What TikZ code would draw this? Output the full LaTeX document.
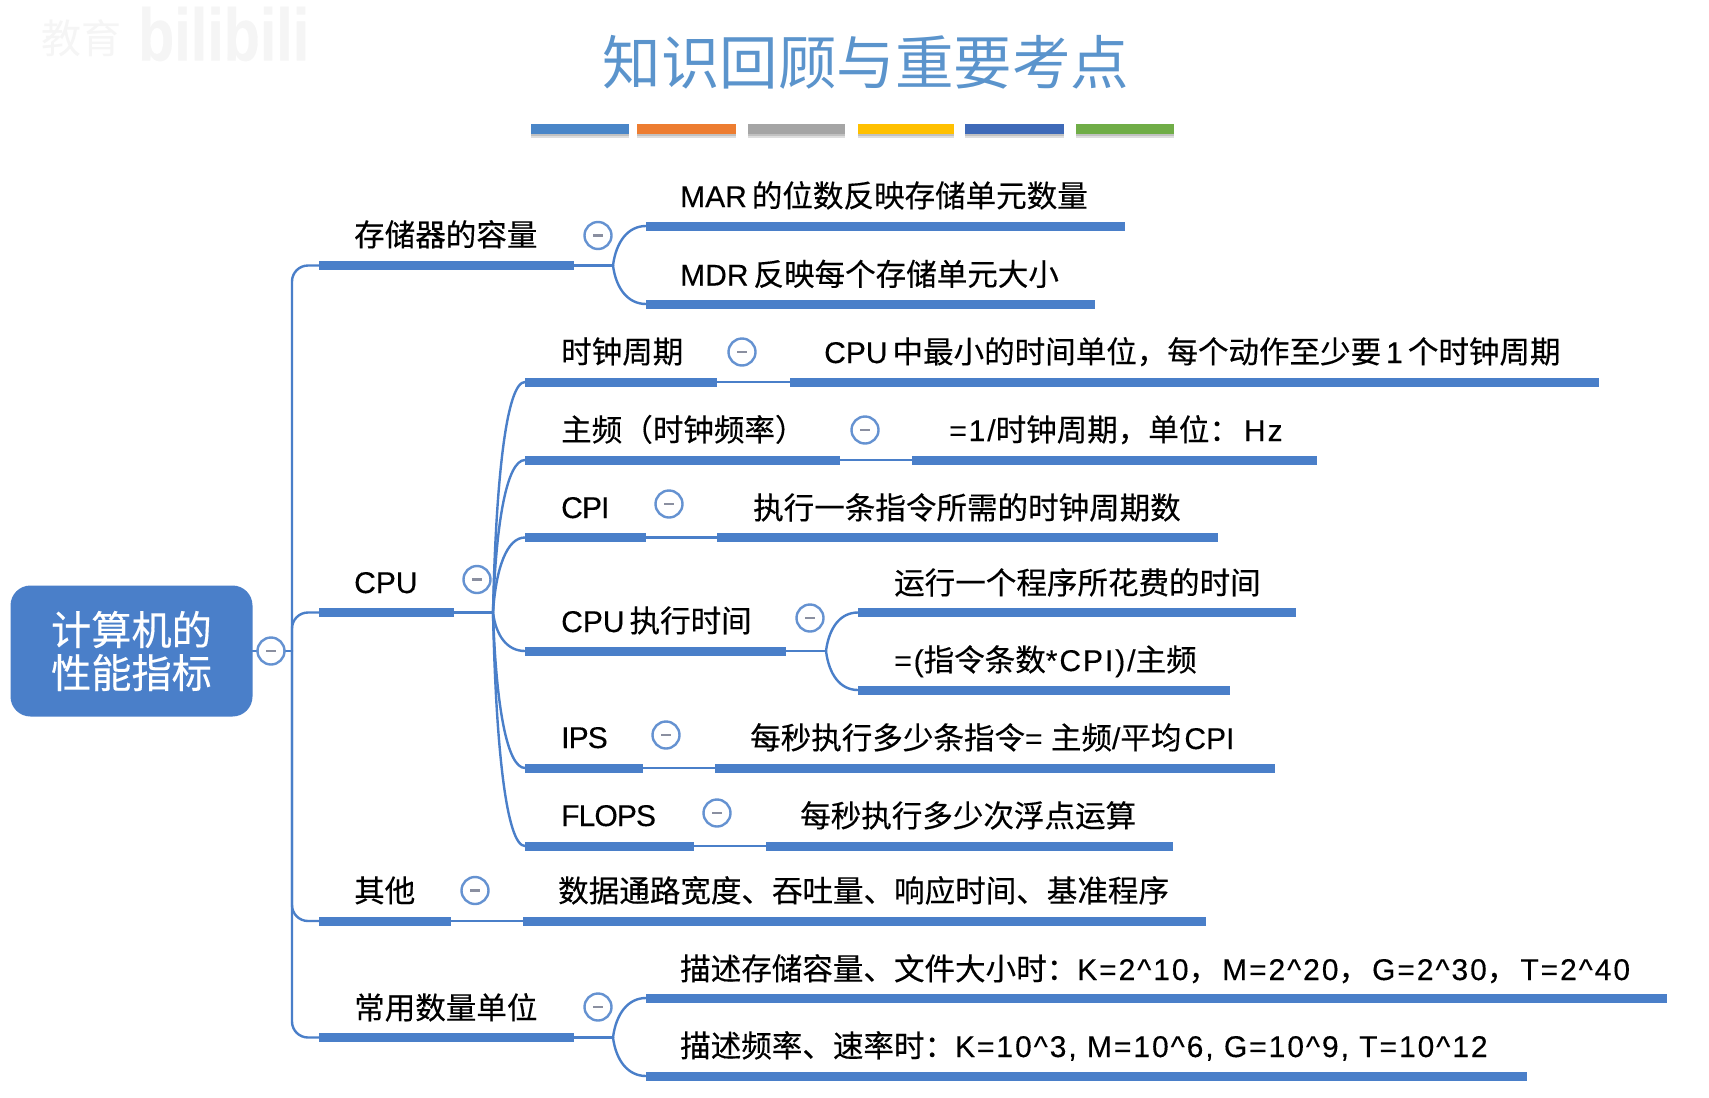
\documentclass[tikz,border=0pt]{standalone}
\usepackage{fontspec}
\usetikzlibrary{calc}
\setmainfont[FakeBold=0.25]{Liberation Sans}
\newfontfamily\cjk[Scale=1.018,FakeBold=0.35]{Noto Sans CJK SC}
\newfontfamily\cjkplain{Noto Sans CJK SC}
\newfontfamily\wide[LetterSpace=6.5,FakeBold=0.25]{Liberation Sans}
\newfontfamily\tight[LetterSpace=-3,FakeBold=0.25]{Liberation Sans}
\newcommand{\Zh}[1]{{\cjk #1}}
\definecolor{mapblue}{HTML}{4A7FC9}
\definecolor{titleblue}{HTML}{5B94CC}
\definecolor{dashgray}{HTML}{8A8FA0}
\definecolor{ribA}{HTML}{4A86C8}
\definecolor{ribB}{HTML}{ED7D31}
\definecolor{ribC}{HTML}{A5A5A5}
\definecolor{ribD}{HTML}{FFC000}
\definecolor{ribE}{HTML}{3F6AB8}
\definecolor{ribF}{HTML}{70AD47}
\tikzset{
  x=1pt,y=-1pt,
  barline/.style={rectangle,fill=mapblue,draw=none,inner sep=0pt,minimum height=9pt,anchor=west},
  conn/.style={draw=mapblue,line width=2.4pt,line cap=round},
  tree/.style={font=\fontsize{30}{32}\selectfont,text=black,inner sep=0pt,anchor=west,text height=26pt,text depth=4pt},
  toggle/.style={circle,draw=mapblue!85!white,fill=white,line width=2.4pt,minimum size=27pt,inner sep=0pt,
    path picture={\draw[dashgray,line width=2.6pt] (path picture bounding box.center)+(-5,0) -- +(5,0);}},
  ribbon/.style={rectangle,draw=none,inner sep=0pt,minimum height=10pt,anchor=west},
  ribbonshadow/.style={rectangle,fill=black,opacity=0.13,draw=none,inner sep=0pt,minimum height=10pt,anchor=west}
}
\newcommand{\BarN}[4]{\node[barline,minimum width=\dimexpr #3pt-#2pt\relax] (#1) at (#2,#4) {};}
\newcommand{\Rib}[4]{%
  \node[ribbonshadow,minimum width=\dimexpr #3pt-#2pt\relax] (#1s) at (#2,133) {};
  \node[ribbonshadow,minimum width=\dimexpr #3pt-#2pt\relax] (#1t) at (#2,131) {};
  \node[ribbon,fill=#4,minimum width=\dimexpr #3pt-#2pt\relax] (#1) at (#2,128.5) {};}
\newcommand{\Fan}[2]{\draw[conn] (#1) .. controls ($(#1)!0.6!(#1|-#2.west)+(3,0)$) and ($(#2.west)+(-18,0)$) .. (#2.west);}
\begin{document}
\begin{tikzpicture}
\useasboundingbox (0,0) rectangle (1709,1098);
\fill[white] (0,0) rectangle (1709,1098);
% watermark
\node[font=\fontsize{74}{74}\bfseries\selectfont,text=black!4,inner sep=0pt,anchor=west,xscale=0.8] (wm) at (138,34) {bilibili};
\node[font=\fontsize{40}{40}\selectfont\cjkplain,text=black!4,inner sep=0pt,anchor=east] (wmz) at (122,38) {教育};
% title
\node[font=\fontsize{58.5}{60}\selectfont\cjkplain,text=titleblue,inner sep=0pt] (title) at (866,62) {知识回顾与重要考点};
\Rib{r1}{531}{629}{ribA}
\Rib{r2}{637}{736}{ribB}
\Rib{r3}{748}{845}{ribC}
\Rib{r4}{858}{954}{ribD}
\Rib{r5}{965}{1064}{ribE}
\Rib{r6}{1076}{1174}{ribF}
% root
\node[rectangle,rounded corners=20pt,fill=mapblue,text=white,inner sep=0pt,minimum width=242pt,minimum height=131pt,
  font=\fontsize{39.5}{43}\selectfont\cjk,align=center] (root) at (131.5,651) {计算机的\\性能指标};
% bars
\BarN{bMem}{319}{574}{265.5}
\BarN{bMar}{646}{1125}{226}
\BarN{bMdr}{646}{1095}{304}
\BarN{bCpu}{319}{454}{612.5}
\BarN{bClk}{525}{717}{382}
\BarN{bClkD}{790}{1599}{382}
\BarN{bFrq}{525}{840}{460}
\BarN{bFrqD}{912}{1317}{460}
\BarN{bCpi}{525}{646}{537.5}
\BarN{bCpiD}{717}{1218}{537.5}
\BarN{bExe}{525}{786}{651}
\BarN{bExeA}{858}{1296}{612.5}
\BarN{bExeB}{858}{1230}{690}
\BarN{bIps}{525}{643}{768}
\BarN{bIpsD}{715}{1275}{768}
\BarN{bFlp}{525}{694}{846}
\BarN{bFlpD}{766}{1173}{846}
\BarN{bOth}{319}{451}{921}
\BarN{bOthD}{523}{1206}{921}
\BarN{bUni}{319}{574}{1037.5}
\BarN{bUniA}{646}{1667}{998}
\BarN{bUniB}{646}{1527}{1076}
% junctions
\coordinate (trunk) at (292,651);
\coordinate (jMem) at (613,265.5);
\coordinate (jCpu) at (493,612.5);
\coordinate (jExe) at (826,651);
\coordinate (jUni) at (613,1037.5);
% connectors
\draw[conn] (root.east) -- (trunk);
\draw[conn,rounded corners=16pt] (trunk) |- (bMem.west);
\draw[conn,rounded corners=16pt] (trunk) |- (bCpu.west);
\draw[conn,rounded corners=16pt] (trunk) |- (bOth.west);
\draw[conn,rounded corners=16pt] (trunk) |- (bUni.west);
\draw[conn] (bMem.east) -- (jMem);
\draw[conn] (bCpu.east) -- (jCpu);
\draw[conn] (bExe.east) -- (jExe);
\draw[conn] (bUni.east) -- (jUni);
\draw[conn] (bClk.east) -- (bClkD.west);
\draw[conn] (bFrq.east) -- (bFrqD.west);
\draw[conn] (bCpi.east) -- (bCpiD.west);
\draw[conn] (bIps.east) -- (bIpsD.west);
\draw[conn] (bFlp.east) -- (bFlpD.west);
\draw[conn] (bOth.east) -- (bOthD.west);
\Fan{jMem}{bMar}
\Fan{jMem}{bMdr}
\Fan{jCpu}{bClk}
\Fan{jCpu}{bFrq}
\Fan{jCpu}{bCpi}
\Fan{jCpu}{bExe}
\Fan{jCpu}{bIps}
\Fan{jCpu}{bFlp}
\Fan{jExe}{bExeA}
\Fan{jExe}{bExeB}
\Fan{jUni}{bUniA}
\Fan{jUni}{bUniB}
% toggles
\node[toggle] (tRoot) at (271,651) {};
\node[toggle] (tMem) at (598,235.5) {};
\node[toggle] (tClk) at (742,352) {};
\node[toggle] (tFrq) at (865,430) {};
\node[toggle] (tCpi) at (669,504) {};
\node[toggle] (tCpu) at (477,579.5) {};
\node[toggle] (tExe) at (810,618) {};
\node[toggle] (tIps) at (666,735) {};
\node[toggle] (tFlp) at (717,813) {};
\node[toggle] (tOth) at (475,890.5) {};
\node[toggle] (tUni) at (598,1007) {};
% labels
\node[tree] (lMem) at (354,235) {\Zh{存储器的容量}};
\node[tree] (lMar) at (680,196) {MAR\kern5pt\Zh{的位数反映存储单元数量}};
\node[tree] (lMdr) at (680,274.5) {MDR\kern5pt\Zh{反映每个存储单元大小}};
\node[tree] (lClk) at (561,352) {\Zh{时钟周期}};
\node[tree] (lClkD) at (824,352) {CPU\kern5pt\Zh{中最小的时间单位，每个动作至少要}\kern5pt1\kern5pt\Zh{个时钟周期}};
\node[tree] (lFrq) at (561,430) {\Zh{主频（时钟频率）}};
\node[tree] (lFrqD) at (949,430) {\wide =1/\Zh{时钟周期，单位：}\kern4pt Hz};
\node[tree] (lCpi) at (561,507) {\tight CPI};
\node[tree] (lCpiD) at (753,508) {\Zh{执行一条指令所需的时钟周期数}};
\node[tree] (lCpu) at (354,582) {CPU};
\node[tree] (lExe) at (561,621) {CPU\kern5pt\Zh{执行时间}};
\node[tree] (lExeA) at (894,583) {\Zh{运行一个程序所花费的时间}};
\node[tree] (lExeB) at (894,660) {\wide =(\Zh{指令条数}*CPI)/\Zh{主频}};
\node[tree] (lIps) at (561,737) {\tight IPS};
\node[tree] (lIpsD) at (750,738) {\Zh{每秒执行多少条指令}= \Zh{主频}/\Zh{平均}\kern3pt CPI};
\node[tree] (lFlp) at (561,815) {\tight FLOPS};
\node[tree] (lFlpD) at (800,816) {\Zh{每秒执行多少次浮点运算}};
\node[tree] (lOth) at (354,891) {\Zh{其他}};
\node[tree] (lOthD) at (558,891) {\Zh{数据通路宽度、吞吐量、响应时间、基准程序}};
\node[tree] (lUni) at (354,1008) {\Zh{常用数量单位}};
\node[tree] (lUniA) at (680,969) {\Zh{描述存储容量、文件大小时：}\wide K=2\^{}10\Zh{，}\kern3pt M=2\^{}20\Zh{，}\kern3pt G=2\^{}30\Zh{，}\kern3pt T=2\^{}40};
\node[tree] (lUniB) at (680,1046) {\Zh{描述频率、速率时：}\wide K=10\^{}3, M=10\^{}6, G=10\^{}9, T=10\^{}12};
\end{tikzpicture}
\end{document}
